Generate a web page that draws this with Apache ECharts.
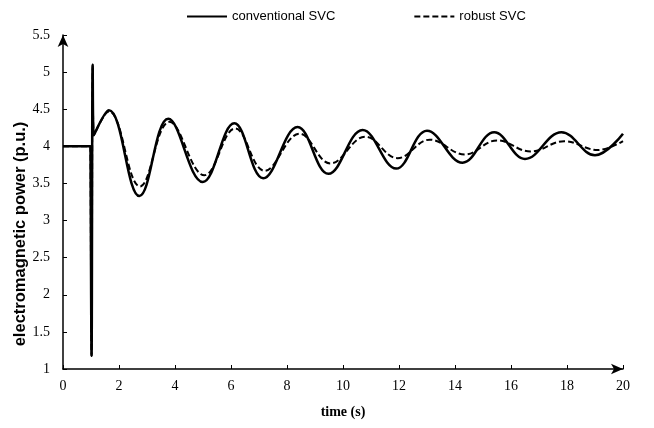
<!DOCTYPE html>
<html>
<head>
<meta charset="utf-8">
<script src="https://cdn.jsdelivr.net/npm/echarts@6/dist/echarts.min.js"></script>
<style>
  html, body { margin: 0; padding: 0; background: #ffffff; }
  #chart { width: 654px; height: 428px; }
</style>
</head>
<body>
<div id="chart"></div>
<script>
// Electromagnetic power response after the disturbance at t = 1 s
const seriesNames = ['conventional SVC', 'robust SVC'];

// conventional SVC: time (s) and power (p.u.) at the turning points
const convTime  = [0, 0.98, 1.0, 1.02, 1.06, 1.1, 1.64, 2.73, 3.76, 4.99, 6.12, 7.15, 8.38, 9.48, 10.7, 11.9, 13.0, 14.27, 15.4, 16.5, 17.8, 19.0, 20.0];
const convPower = [4, 4, 4, 1.18, 5.1, 4.15, 4.485, 3.33, 4.37, 3.52, 4.31, 3.57, 4.26, 3.63, 4.22, 3.70, 4.21, 3.78, 4.19, 3.83, 4.19, 3.88, 4.17];

// robust SVC
const robTime  = [0, 0.98, 1.0, 1.02, 1.06, 1.1, 1.64, 2.75, 3.8, 5.05, 6.15, 7.2, 8.45, 9.55, 10.8, 11.95, 13.1, 14.35, 15.5, 16.7, 17.9, 19.1, 20.0];
const robPower = [4, 4, 4, 1.18, 5.1, 4.15, 4.47, 3.46, 4.33, 3.61, 4.24, 3.67, 4.17, 3.77, 4.13, 3.84, 4.09, 3.89, 4.08, 3.93, 4.07, 3.95, 4.07];

const xTicks = { min: 0, max: 20, interval: 2 };
const yTicks = { min: 1, max: 5.5, interval: 0.5 };

const pairs = (xs, ys) => xs.map((x, i) => [x, ys[i]]);

const serif = "'Liberation Serif', 'Times New Roman', serif";
const sans = "'Liberation Sans Narrow', 'Liberation Sans', Arial, sans-serif";

const chart = echarts.init(document.getElementById('chart'), null, { renderer: 'canvas' });
chart.setOption({
  backgroundColor: '#ffffff',
  animation: false,
  legend: {
    data: seriesNames,
    left: 181,
    top: 5,
    itemWidth: 40,
    itemHeight: 10,
    itemGap: 78,
    itemStyle: { opacity: 0 },
    textStyle: { fontFamily: sans, fontSize: 13, color: '#000' }
  },
  grid: { left: 63, right: 31, top: 35, bottom: 59, containLabel: false, outerBoundsMode: 'none' },
  xAxis: {
    type: 'value',
    min: xTicks.min, max: xTicks.max, interval: xTicks.interval,
    name: 'time (s)',
    nameLocation: 'middle',
    nameGap: 36,
    nameMoveOverlap: false,
    nameTextStyle: { fontFamily: serif, fontSize: 14, fontWeight: 'bold', color: '#000' },
    axisLine: { show: true, symbol: ['none', 'arrow'], symbolSize: [8, 12], lineStyle: { color: '#000', width: 1.5 } },
    axisTick: { show: true, inside: true, length: 4, lineStyle: { color: '#000' } },
    axisLabel: { fontFamily: serif, fontSize: 14, color: '#000', margin: 10 },
    splitLine: { show: false }
  },
  yAxis: {
    type: 'value',
    min: yTicks.min, max: yTicks.max, interval: yTicks.interval,
    name: 'electromagnetic power (p.u.)',
    nameLocation: 'middle',
    nameGap: 34,
    nameMoveOverlap: false,
    nameTextStyle: { fontFamily: sans, fontSize: 16.5, fontWeight: 'bold', color: '#000', padding: [0, 64, 0, 0] },
    axisLine: { show: true, symbol: ['none', 'arrow'], symbolSize: [8, 12], lineStyle: { color: '#000', width: 1.5 } },
    axisTick: { show: true, inside: true, length: 4, lineStyle: { color: '#000' } },
    axisLabel: { fontFamily: serif, fontSize: 14, color: '#000', margin: 13 },
    splitLine: { show: false }
  },
  series: [
    {
      name: seriesNames[0],
      type: 'line',
      data: pairs(convTime, convPower),
      smooth: 0.4,
      symbol: 'none',
      lineStyle: { color: '#000', width: 2.5, type: 'solid' },
      itemStyle: { color: '#000' },
      z: 3
    },
    {
      name: seriesNames[1],
      type: 'line',
      data: pairs(robTime, robPower),
      smooth: 0.4,
      symbol: 'none',
      lineStyle: { color: '#000', width: 2, type: [6, 3] },
      itemStyle: { color: '#000' },
      z: 2
    }
  ]
});
</script>
</body>
</html>
